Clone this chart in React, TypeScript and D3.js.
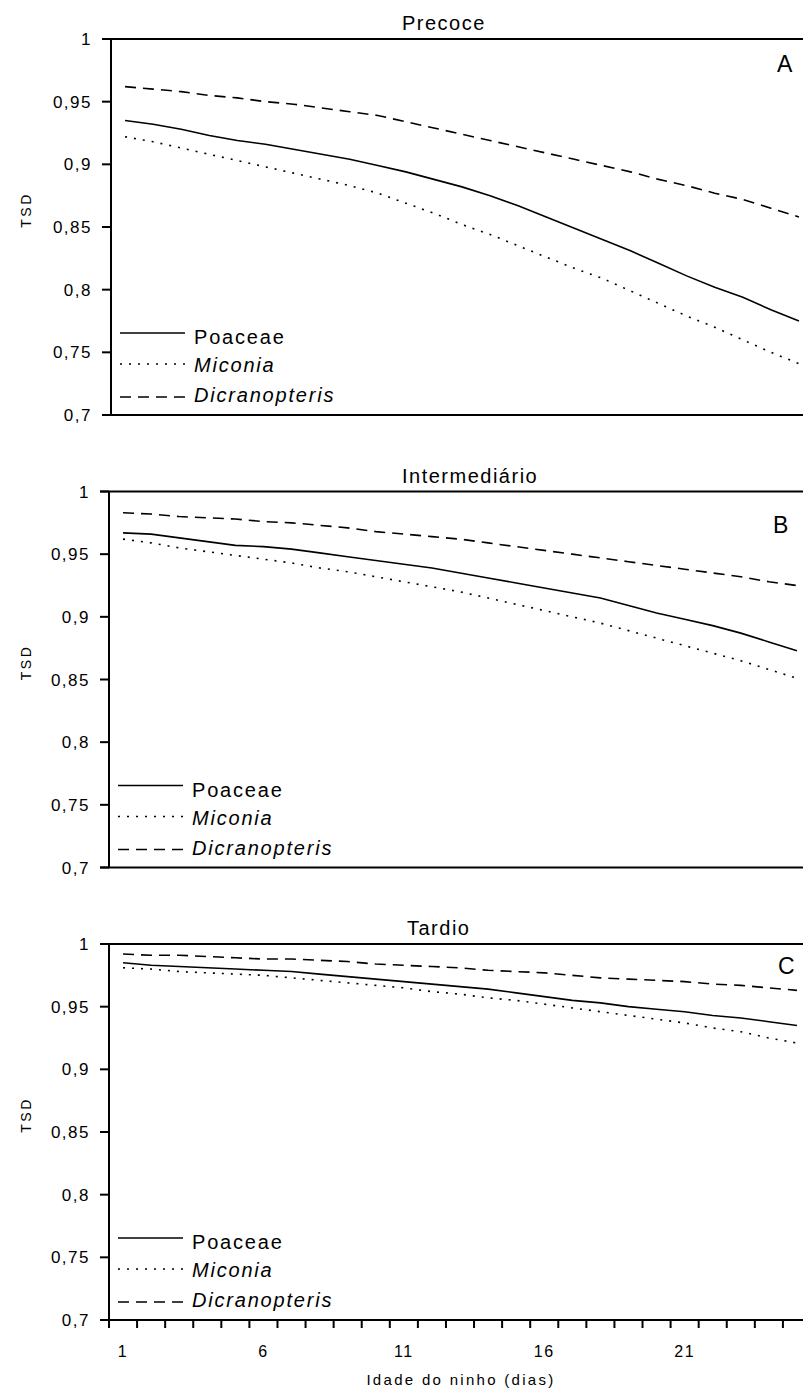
import * as d3 from 'd3';

// nest age (days)
const days = [1, 2, 3, 4, 5, 6, 7, 8, 9, 10, 11, 12, 13, 14, 15, 16, 17, 18, 19, 20, 21, 22, 23, 24, 25];
const xLabels = [1, 6, 11, 16, 21];
const yTicks = [0.7, 0.75, 0.8, 0.85, 0.9, 0.95, 1];

// A - Precoce
const poaceaeA = [0.935, 0.932, 0.928, 0.923, 0.919, 0.916, 0.912, 0.908, 0.904, 0.899, 0.894, 0.888, 0.882, 0.875, 0.867, 0.858, 0.849, 0.840, 0.831, 0.821, 0.811, 0.802, 0.794, 0.784, 0.775];
const miconiaA = [0.922, 0.918, 0.913, 0.908, 0.903, 0.898, 0.893, 0.888, 0.883, 0.877, 0.869, 0.861, 0.852, 0.844, 0.835, 0.826, 0.817, 0.809, 0.799, 0.789, 0.779, 0.770, 0.760, 0.750, 0.741];
const dicranA = [0.962, 0.960, 0.958, 0.955, 0.953, 0.950, 0.948, 0.945, 0.942, 0.939, 0.934, 0.929, 0.924, 0.919, 0.914, 0.909, 0.904, 0.899, 0.894, 0.888, 0.883, 0.877, 0.872, 0.865, 0.858];

// B - Intermediário
const poaceaeB = [0.967, 0.966, 0.963, 0.960, 0.957, 0.956, 0.954, 0.951, 0.948, 0.945, 0.942, 0.939, 0.935, 0.931, 0.927, 0.923, 0.919, 0.915, 0.909, 0.903, 0.898, 0.893, 0.887, 0.880, 0.873];
const miconiaB = [0.962, 0.959, 0.955, 0.952, 0.949, 0.946, 0.943, 0.939, 0.936, 0.932, 0.928, 0.924, 0.920, 0.915, 0.910, 0.905, 0.900, 0.895, 0.889, 0.883, 0.877, 0.871, 0.865, 0.858, 0.851];
const dicranB = [0.983, 0.982, 0.980, 0.979, 0.978, 0.976, 0.975, 0.973, 0.971, 0.968, 0.966, 0.964, 0.962, 0.959, 0.956, 0.953, 0.950, 0.947, 0.944, 0.941, 0.938, 0.935, 0.932, 0.928, 0.925];

// C - Tardio
const poaceaeC = [0.985, 0.983, 0.982, 0.981, 0.980, 0.979, 0.978, 0.976, 0.974, 0.972, 0.970, 0.968, 0.966, 0.964, 0.961, 0.958, 0.955, 0.953, 0.950, 0.948, 0.946, 0.943, 0.941, 0.938, 0.935];
const miconiaC = [0.981, 0.980, 0.978, 0.977, 0.976, 0.975, 0.973, 0.971, 0.969, 0.967, 0.965, 0.962, 0.960, 0.957, 0.955, 0.952, 0.949, 0.946, 0.943, 0.940, 0.937, 0.933, 0.930, 0.925, 0.921];
const dicranC = [0.992, 0.991, 0.991, 0.990, 0.989, 0.988, 0.988, 0.987, 0.986, 0.984, 0.983, 0.982, 0.981, 0.979, 0.978, 0.977, 0.975, 0.973, 0.972, 0.971, 0.970, 0.968, 0.967, 0.965, 0.963];

const seriesNames = ['Poaceae', 'Miconia', 'Dicranopteris'];
const dashes = [null, '2,7', '11,7'];

const panels = [
  { title: 'Precoce', letter: 'A', values: [poaceaeA, miconiaA, dicranA], top: 39, axisX: 111, titleX: 402, letterX: 777, letterDy: 33 },
  { title: 'Intermediário', letter: 'B', values: [poaceaeB, miconiaB, dicranB], top: 491.5, axisX: 109, titleX: 402, letterX: 773, letterDy: 41 },
  { title: 'Tardio', letter: 'C', values: [poaceaeC, miconiaC, dicranC], top: 944, axisX: 109, titleX: 407, letterX: 778, letterDy: 30 },
];

const W = 803;
const H = 1389;
const plotH = 376;
const step = 28.08;
const font = '"Liberation Sans", Arial, sans-serif';
const fmt = (v: number) => d3.format('.2~f')(v).replace('.', ',');

function Panel({ p, last }: { p: any; last: boolean }) {
  const x = d3
    .scaleBand<number>()
    .domain(days)
    .range([p.axisX, p.axisX + days.length * step])
    .padding(0);
  const y = d3.scaleLinear().domain([0.7, 1]).range([p.top + plotH, p.top]);
  const line = d3
    .line<number>()
    .x((d, i) => (x(days[i]) ?? 0) + x.bandwidth() / 2)
    .y((d) => y(d));
  const bottom = p.top + plotH;

  return (
    <g>
      <text x={p.titleX} y={p.top - 9} fontSize={20} letterSpacing={1.5} fontFamily={font}>
        {p.title}
      </text>
      <text x={p.letterX} y={p.top + p.letterDy} fontSize={23} fontFamily={font}>
        {p.letter}
      </text>
      <text
        transform={`translate(31,${p.top + 171}) rotate(-90)`}
        textAnchor="middle"
        fontSize={14}
        letterSpacing={2.5}
        fontFamily={font}
      >
        TSD
      </text>

      {p.values.map((vals: number[], i: number) => (
        <path
          key={i}
          d={line(vals) ?? ''}
          fill="none"
          stroke="#000"
          strokeWidth={1.6}
          strokeDasharray={dashes[i] ?? undefined}
        />
      ))}

      {/* axes frame */}
      <line x1={p.axisX - 9} x2={W} y1={p.top} y2={p.top} stroke="#000" strokeWidth={2} />
      <line x1={p.axisX - 9} x2={W} y1={bottom} y2={bottom} stroke="#000" strokeWidth={2} />
      <line x1={p.axisX} x2={p.axisX} y1={p.top} y2={bottom} stroke="#000" strokeWidth={2} />
      {yTicks.map((t) => (
        <g key={t}>
          <line x1={p.axisX - 9} x2={p.axisX} y1={y(t)} y2={y(t)} stroke="#000" strokeWidth={2} />
          <text
            x={p.axisX - 19}
            y={y(t)}
            dy="0.36em"
            textAnchor="end"
            fontSize={17}
            letterSpacing={1.5}
            fontFamily={font}
          >
            {fmt(t)}
          </text>
        </g>
      ))}

      {/* legend */}
      {seriesNames.map((name, i) => {
        const ly = bottom - [82, 51, 18][i];
        const ty = bottom - [71, 43, 13][i];
        return (
          <g key={name}>
            <line
              x1={p.axisX + 9}
              x2={p.axisX + 74}
              y1={ly}
              y2={ly}
              stroke="#000"
              strokeWidth={1.6}
              strokeDasharray={dashes[i] ?? undefined}
            />
            <text
              x={p.axisX + 83}
              y={ty}
              fontSize={20}
              letterSpacing={1.8}
              fontStyle={i === 0 ? 'normal' : 'italic'}
              fontFamily={font}
            >
              {name}
            </text>
          </g>
        );
      })}

      {last && (
        <g>
          {days.concat([26]).map((d, i) => {
            const tx = p.axisX + i * step;
            return <line key={d} x1={tx} x2={tx} y1={bottom} y2={bottom + 8} stroke="#000" strokeWidth={2} />;
          })}
          {xLabels.map((d) => (
            <text
              key={d}
              x={(x(d) ?? 0) + x.bandwidth() / 2}
              y={bottom + 37}
              textAnchor="middle"
              fontSize={16}
              letterSpacing={1.5}
              fontFamily={font}
            >
              {d}
            </text>
          ))}
          <text x={461} y={bottom + 65} textAnchor="middle" fontSize={15} letterSpacing={2.3} fontFamily={font}>
            Idade do ninho (dias)
          </text>
        </g>
      )}
    </g>
  );
}

export default function App() {
  return (
    <svg
      width={W}
      height={H}
      viewBox={`0 0 ${W} ${H}`}
      style={{ position: 'absolute', left: 0, top: 0, background: '#fff' }}
    >
      <rect width={W} height={H} fill="#fff" />
      {panels.map((p, i) => (
        <Panel key={p.letter} p={p} last={i === panels.length - 1} />
      ))}
    </svg>
  );
}
